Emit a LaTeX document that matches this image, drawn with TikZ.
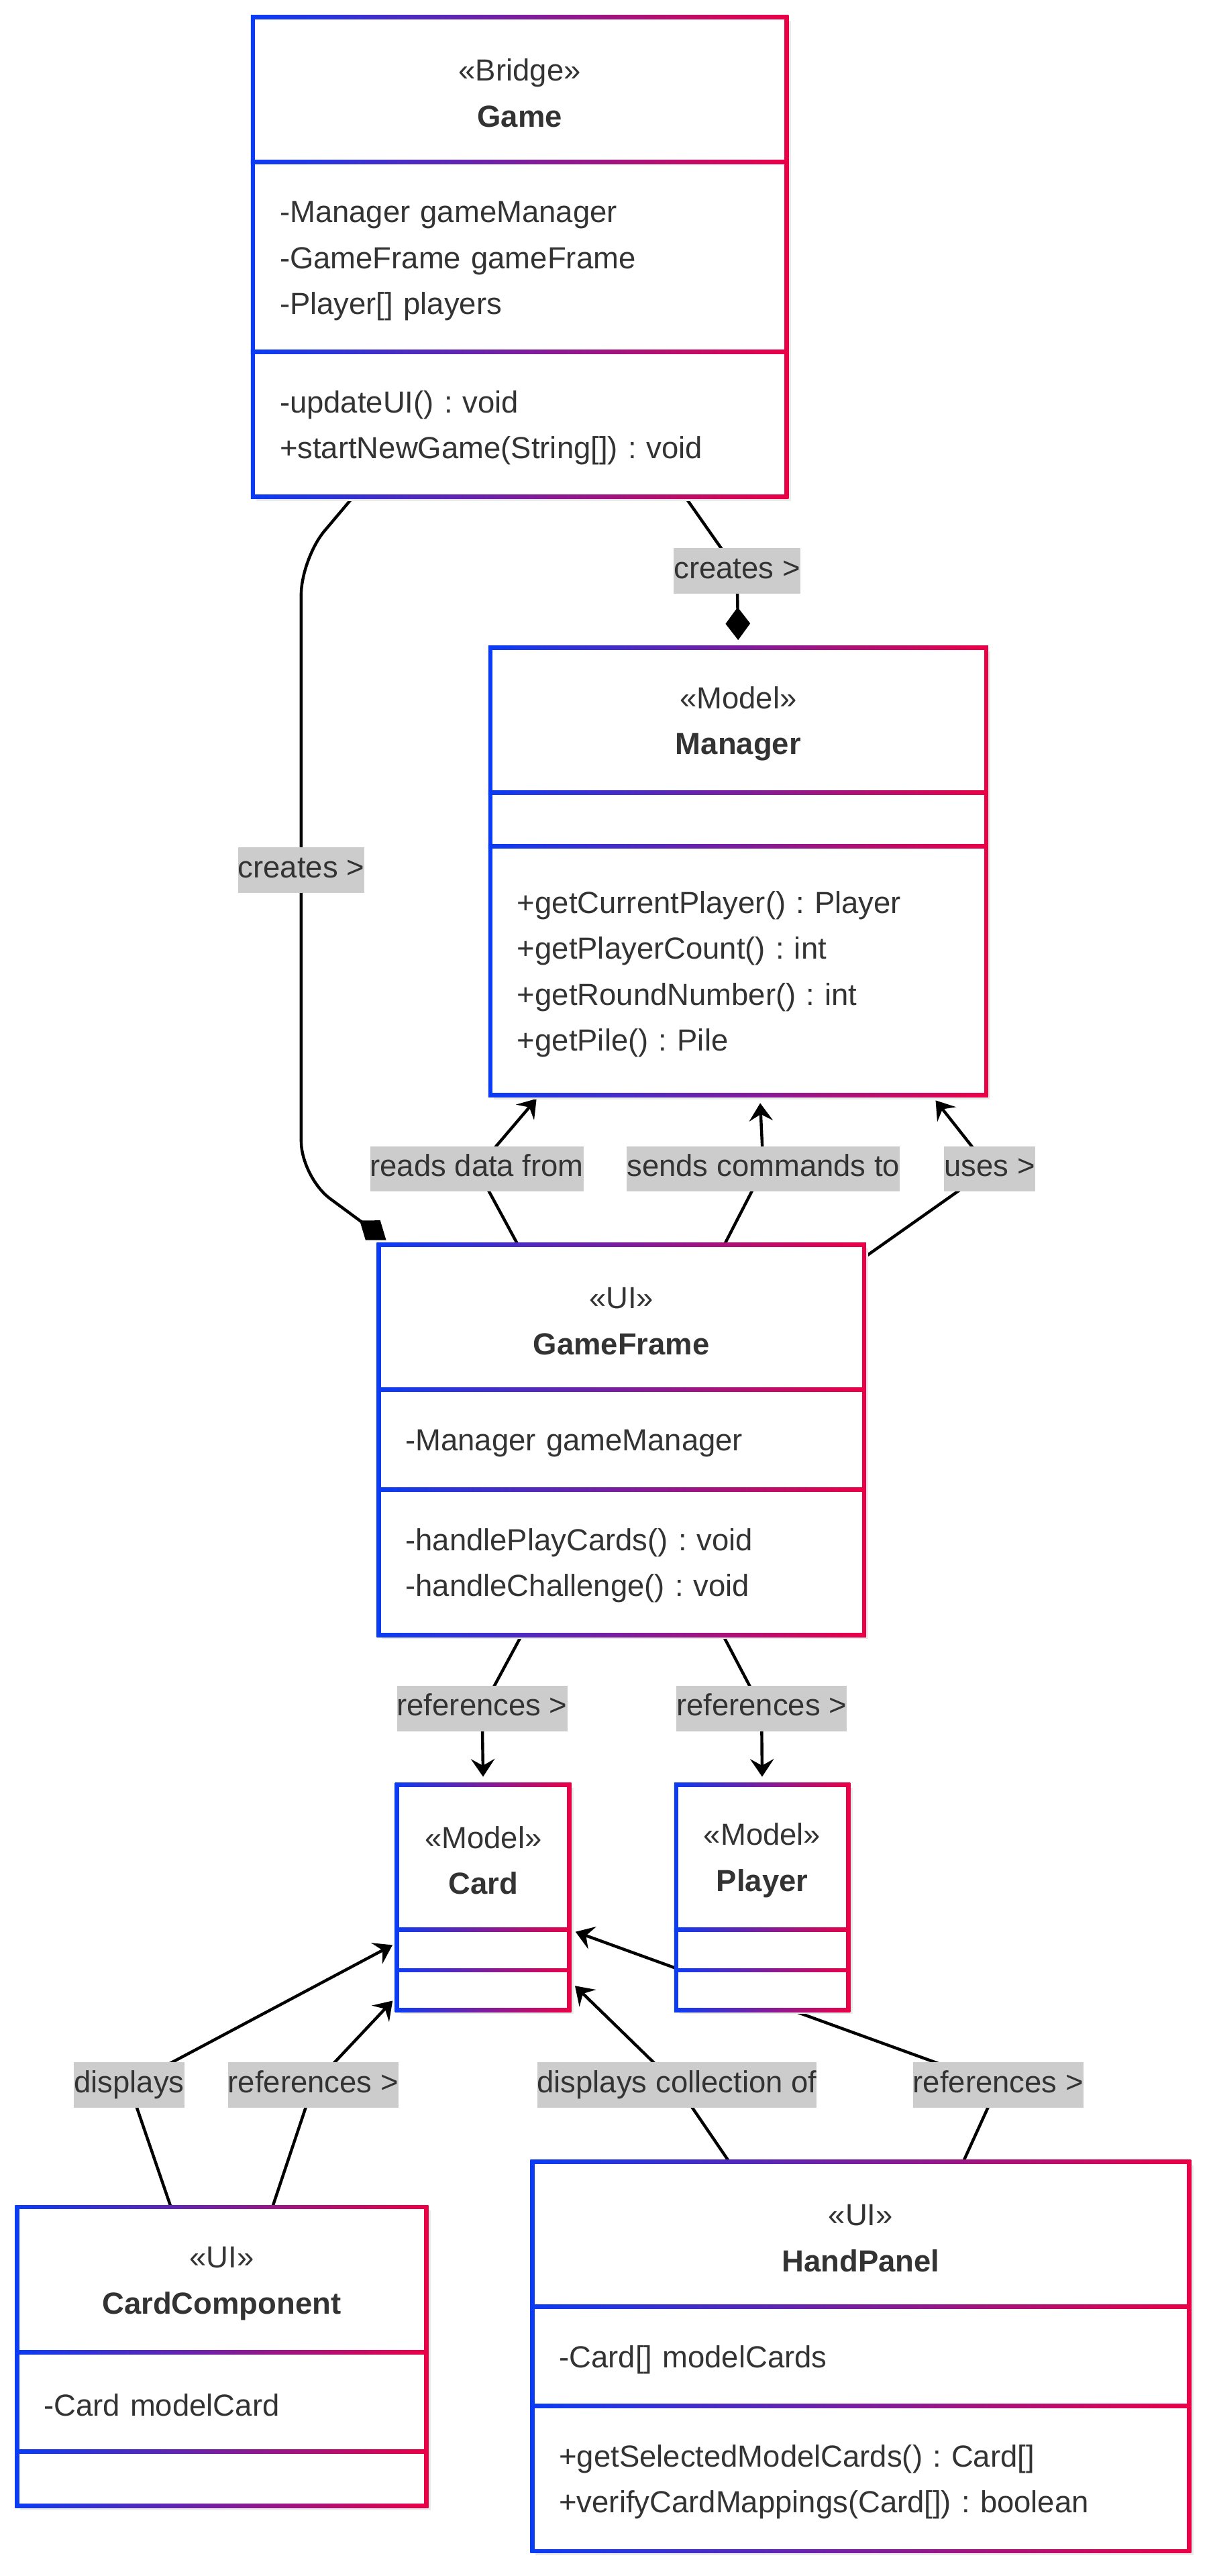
\documentclass[tikz,border=0pt]{standalone}
\usepackage{fontspec}
\setmainfont{Liberation Sans}
\usetikzlibrary{arrows.meta}
\usetikzlibrary{positioning}
\usetikzlibrary{calc}
\frenchspacing
\definecolor{umlblue}{HTML}{0A3CF5}
\definecolor{umlred}{HTML}{EB0046}
\definecolor{textgrey}{HTML}{333333}
\definecolor{labelgrey}{HTML}{CCCCCC}
\pgfdeclarelayer{edges}
\pgfdeclarelayer{frames}
\pgfsetlayers{edges,frames,main}

% gradient frame round the three parts of a class
\newcommand{\classframe}[3]{
  \begin{pgfonlayer}{frames}
    \fill[black!8] ([shift={(2,2)}]#1.north west) rectangle ([shift={(2.6,2.6)}]#3.south east);
    \shade[left color=umlblue, right color=umlred] ([shift={(-1.3,-1.3)}]#1.north west) rectangle ([shift={(1.3,1.3)}]#3.south east);
    \fill[white] ([shift={(1.3,1.3)}]#1.north west) rectangle ([shift={(-1.3,-1.3)}]#3.south east);
    \shade[left color=umlblue, right color=umlred] ([shift={(-1.3,-1.2)}]#1.south west) rectangle ([shift={(1.3,1.2)}]#1.south east);
    \shade[left color=umlblue, right color=umlred] ([shift={(-1.3,-1.2)}]#2.south west) rectangle ([shift={(1.3,1.2)}]#2.south east);
  \end{pgfonlayer}
}

\tikzset{
  classhead/.style={text=textgrey, align=center, inner xsep=0.4cm, inner ysep=0pt, minimum height=2.19cm, execute at begin node={\rule{0pt}{0.95em}}},
  classpart/.style={text=textgrey, align=left, inner xsep=0.4cm, inner ysep=0pt, execute at begin node={\rule{0pt}{0.95em}}},
  edgelabel/.style={fill=labelgrey, text=textgrey, inner xsep=0pt, inner ysep=0pt, minimum height=0.69cm, text height=0.82em, text depth=0.18em},
  assoc/.style={line width=0.045cm, -{Stealth[length=0.27cm, width=0.36cm, inset=0.1cm]}},
  compose/.style={line width=0.045cm, -{Diamond[length=0.5cm, width=0.375cm]}}
}

\begin{document}
\begin{tikzpicture}[x=0.025cm, y=-0.025cm, node distance=0pt, font=\fontsize{13.2}{19.9}\selectfont]
\useasboundingbox (0,0) rectangle (737,1568);

% Game
\node[classhead, text width=7.3cm, anchor=north west] (game) at (154,10.5) {«Bridge»\\\textbf{Game}};
\node[classpart, text width=7.3cm, minimum height=2.875cm, below=of game] (game-attr) {-Manager gameManager\\-GameFrame gameFrame\\-Player[] players};
\node[classpart, text width=7.3cm, minimum height=2.1875cm, below=of game-attr] (game-ops) {-updateUI() : void\\+startNewGame(String[]) : void};
\classframe{game}{game-attr}{game-ops}

% Manager
\node[classhead, text width=6.725cm, anchor=north west] (manager) at (298.5,394.4) {«Model»\\\textbf{Manager}};
\node[classpart, text width=6.725cm, minimum height=0.7975cm, below=of manager] (manager-attr) {};
\node[classpart, text width=6.725cm, minimum height=3.775cm, below=of manager-attr] (manager-ops) {+getCurrentPlayer() : Player\\+getPlayerCount() : int\\+getRoundNumber() : int\\+getPile() : Pile};
\classframe{manager}{manager-attr}{manager-ops}

% GameFrame
\node[classhead, text width=6.5675cm, anchor=north west] (gameframe) at (230.5,757.8) {«UI»\\\textbf{GameFrame}};
\node[classpart, text width=6.5675cm, minimum height=1.5cm, below=of gameframe] (gameframe-attr) {-Manager gameManager};
\node[classpart, text width=6.5675cm, minimum height=2.1975cm, below=of gameframe-attr] (gameframe-ops) {-handlePlayCards() : void\\-handleChallenge() : void};
\classframe{gameframe}{gameframe-attr}{gameframe-ops}

% Card
\node[classhead, text width=1.805cm, anchor=north west] (card) at (241.7,1086.3) {«Model»\\\textbf{Card}};
\node[classpart, text width=1.805cm, minimum height=0.605cm, below=of card] (card-attr) {};
\node[classpart, text width=1.805cm, minimum height=0.5875cm, below=of card-attr] (card-ops) {};
\classframe{card}{card-attr}{card-ops}

% Player
\node[classhead, text width=1.8cm, anchor=north west] (player) at (411.6,1086.3) {«Model»\\\textbf{Player}};
\node[classpart, text width=1.8cm, minimum height=0.605cm, below=of player] (player-attr) {};
\node[classpart, text width=1.8cm, minimum height=0.5875cm, below=of player-attr] (player-ops) {};
\classframe{player}{player-attr}{player-ops}

% CardComponent
\node[classhead, text width=5.41cm, anchor=north west] (cardcomp) at (10.4,1343.5) {«UI»\\\textbf{CardComponent}};
\node[classpart, text width=5.41cm, minimum height=1.4975cm, below=of cardcomp] (cardcomp-attr) {-Card modelCard};
\node[classpart, text width=5.41cm, minimum height=0.8125cm, below=of cardcomp-attr] (cardcomp-ops) {};
\classframe{cardcomp}{cardcomp-attr}{cardcomp-ops}

% HandPanel
\node[classhead, text width=9.175cm, anchor=north west] (handpanel) at (324,1316) {«UI»\\\textbf{HandPanel}};
\node[classpart, text width=9.175cm, minimum height=1.49cm, below=of handpanel] (handpanel-attr) {-Card[] modelCards};
\node[classpart, text width=9.175cm, minimum height=2.195cm, below=of handpanel-attr] (handpanel-ops) {+getSelectedModelCards() : Card[]\\+verifyCardMappings(Card[]) : boolean};
\classframe{handpanel}{handpanel-attr}{handpanel-ops}

% labels
\node[edgelabel] (lbl-creates-mgr) at (448.6,347.5) {creates >};
\node[edgelabel] (lbl-creates-gf) at (183.3,529.7) {creates >};
\node[edgelabel] (lbl-reads) at (290.2,711.5) {reads data from};
\node[edgelabel] (lbl-sends) at (464.6,711.5) {sends commands to};
\node[edgelabel] (lbl-uses) at (602.3,711.5) {uses >};
\node[edgelabel] (lbl-refs-card) at (293.4,1040) {references >};
\node[edgelabel] (lbl-refs-player) at (463.5,1040) {references >};
\node[edgelabel] (lbl-displays) at (78.6,1269.2) {displays};
\node[edgelabel] (lbl-cc-refs) at (190.6,1269.2) {references >};
\node[edgelabel] (lbl-collection) at (412,1269.2) {displays collection of};
\node[edgelabel] (lbl-hp-refs) at (607.5,1269.2) {references >};

\begin{pgfonlayer}{edges}
  \draw[compose, shorten >=0.12cm] ($(game-ops.south west)!0.81!(game-ops.south east)$) -- (lbl-creates-mgr.center) -- (manager.north);
  \draw[compose, rounded corners=0.55cm] ($(game-ops.south west)!0.188!(game-ops.south east)$) -- (183.3,340) -- (lbl-creates-gf.center) -- (183.3,716.6) -- ($(gameframe.north west)+(4.5,-3)$);
  \draw[assoc, shorten >=0.07cm] ($(gameframe.north west)!0.287!(gameframe.north east)$) -- (lbl-reads.center) -- ($(manager-ops.south west)!0.099!(manager-ops.south east)$);
  \draw[assoc, shorten >=0.12cm] ($(gameframe.north west)!0.712!(gameframe.north east)$) -- (lbl-sends.center) -- ($(manager-ops.south west)!0.5435!(manager-ops.south east)$);
  \draw[assoc, shorten >=0.1cm] ($(gameframe.north east)+(0,7.7)$) -- (lbl-uses.center) -- ($(manager-ops.south west)!0.89!(manager-ops.south east)$);
  \draw[assoc, shorten >=0.12cm] ($(gameframe-ops.south west)!0.295!(gameframe-ops.south east)$) -- (lbl-refs-card.center) -- (card.north);
  \draw[assoc, shorten >=0.12cm] ($(gameframe-ops.south west)!0.709!(gameframe-ops.south east)$) -- (lbl-refs-player.center) -- (player.north);
  \draw[assoc, shorten >=0.08cm] ($(cardcomp.north west)!0.376!(cardcomp.north east)$) -- (lbl-displays.center) -- ($(card-attr.north west)!0.32!(card-attr.south west)$);
  \draw[assoc, shorten >=0.1cm] ($(cardcomp.north west)!0.624!(cardcomp.north east)$) -- (lbl-cc-refs.center) -- ($(card-ops.north west)!0.65!(card-ops.south west)$);
  \draw[assoc, shorten >=0.12cm] ($(handpanel.north west)!0.3!(handpanel.north east)$) -- (lbl-collection.center) -- ($(card-ops.north east)!0.255!(card-ops.south east)$);
  \draw[assoc, shorten >=0.1cm] ($(handpanel.north west)!0.656!(handpanel.north east)$) -- (lbl-hp-refs.center) -- (card.south east);
\end{pgfonlayer}

\end{tikzpicture}
\end{document}
